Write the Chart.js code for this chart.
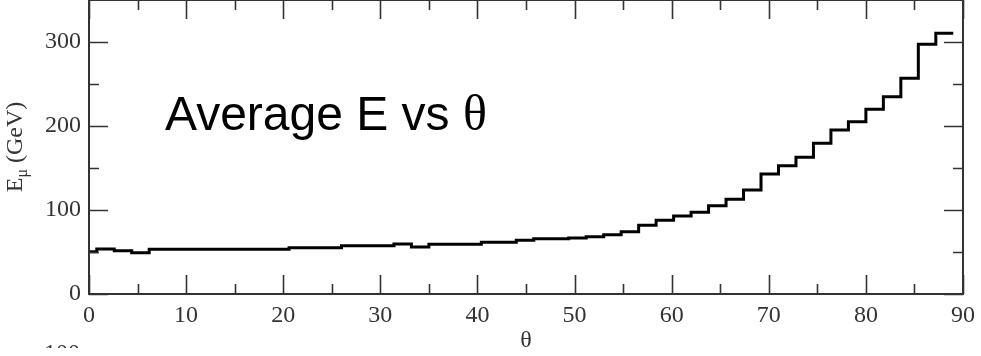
<!DOCTYPE html>
<html><head><meta charset="utf-8">
<script src="https://cdn.jsdelivr.net/npm/chart.js@4.4.0/dist/chart.umd.min.js"></script>
<style>html,body{margin:0;padding:0;background:#fff;overflow:hidden}#wrap{position:relative;width:981px;height:356px}</style>
</head><body><div id="wrap"><canvas id="c" width="981" height="356"></canvas></div>
<script>
// Bin edges of the histogram (theta, degrees)
const binEdges = [0, 0.8, 2.6, 4.4, 6.2, 8.0, 9.8, 11.6, 13.4, 15.2, 17.0, 18.8, 20.6, 22.4, 24.2, 26.0, 27.8, 29.6, 31.4, 33.2, 35.0, 36.8, 38.6, 40.4, 42.2, 44.0, 45.8, 47.6, 49.4, 51.2, 53.0, 54.8, 56.6, 58.4, 60.2, 62.0, 63.8, 65.6, 67.4, 69.2, 71.0, 72.8, 74.6, 76.4, 78.2, 80.0, 81.8, 83.6, 85.4, 87.2, 89.0];
// Average muon energy per bin (GeV)
const avgEnergy = [50.4, 53.5, 51.5, 49.0, 53.2, 53.3, 53.3, 53.3, 53.3, 53.3, 53.3, 53.3, 55.1, 55.1, 55.1, 57.5, 57.5, 57.5, 59.5, 56.0, 59.1, 59.1, 59.1, 61.5, 61.5, 63.9, 65.9, 65.9, 66.7, 68.2, 70.6, 74.2, 81.7, 87.7, 92.9, 97.2, 105.1, 112.7, 123.8, 142.9, 152.8, 162.7, 179.4, 195.2, 205.2, 219.8, 234.9, 256.7, 297.2, 310.3];
const xTickValues = [0, 10, 20, 30, 40, 50, 60, 70, 80, 90];
const xMinorTicks = [5, 15, 25, 35, 45, 55, 65, 75, 85];
const yTickValues = [0, 100, 200, 300];
const yMinorTicks = [50, 150, 250];
const xTitle = 'θ';
const yTitleMain = 'E';
const yTitleSub = 'μ';
const yTitleUnit = ' (GeV)';
const annotationText = 'Average E vs ';
const annotationSymbol = 'θ';
const strayLabel = '100';

const points = binEdges.map((x, i) => ({x: x, y: avgEnergy[Math.min(i, avgEnergy.length - 1)]}));

const AXIS = '#333';
const SERIF = "'Liberation Serif', 'DejaVu Serif', serif";
const SANS = "'Liberation Sans', Arial, sans-serif";

const framePlugin = {
  id: 'frame',
  afterDraw(chart) {
    const ctx = chart.ctx, a = chart.chartArea;
    const xs = chart.scales.x, ys = chart.scales.y;
    ctx.save();
    ctx.strokeStyle = AXIS;
    ctx.lineWidth = 2;
    ctx.strokeRect(a.left, a.top, a.right - a.left, a.bottom - a.top);
    ctx.lineWidth = 1.6;
    ctx.beginPath();
    const tick = (v, len, horiz) => {
      if (horiz) {
        const px = Math.round(xs.getPixelForValue(v)) + 0.5;
        ctx.moveTo(px, a.bottom); ctx.lineTo(px, a.bottom - len);
        ctx.moveTo(px, a.top); ctx.lineTo(px, a.top + len);
      } else {
        const py = Math.round(ys.getPixelForValue(v)) + 0.5;
        ctx.moveTo(a.left, py); ctx.lineTo(a.left + len, py);
        ctx.moveTo(a.right, py); ctx.lineTo(a.right - len, py);
      }
    };
    xTickValues.forEach(v => tick(v, 19, true));
    xMinorTicks.forEach(v => tick(v, 10, true));
    yTickValues.forEach(v => tick(v, 19, false));
    yMinorTicks.forEach(v => tick(v, 10, false));
    ctx.stroke();

    // x title
    ctx.fillStyle = AXIS;
    ctx.font = '24px ' + SERIF;
    ctx.textAlign = 'center';
    ctx.textBaseline = 'alphabetic';
    ctx.fillText(xTitle, (a.left + a.right) / 2, 347);

    // y title with subscript
    ctx.save();
    ctx.translate(22, (a.top + a.bottom) / 2);
    ctx.rotate(-Math.PI / 2);
    ctx.textAlign = 'left';
    const f1 = '24px ' + SERIF, f2 = '16px ' + SERIF;
    ctx.font = f1; const w1 = ctx.measureText(yTitleMain).width;
    ctx.font = f2; const w2 = ctx.measureText(yTitleSub).width;
    ctx.font = f1; const w3 = ctx.measureText(yTitleUnit).width;
    let x0 = -(w1 + w2 + w3) / 2;
    ctx.font = f1; ctx.fillText(yTitleMain, x0, 0);
    ctx.font = f2; ctx.fillText(yTitleSub, x0 + w1, 5);
    ctx.font = f1; ctx.fillText(yTitleUnit, x0 + w1 + w2, 0);
    ctx.restore();

    // annotation
    ctx.fillStyle = '#000';
    ctx.textAlign = 'left';
    ctx.font = '48px ' + SANS;
    const aw = ctx.measureText(annotationText).width;
    ctx.fillText(annotationText, 165, 130);
    ctx.font = '50px ' + SERIF;
    ctx.fillText(annotationSymbol, 165 + aw, 130);

    // stray label from the panel below (clipped)
    ctx.save();
    ctx.beginPath();
    ctx.rect(0, 342, 120, 6);
    ctx.clip();
    ctx.fillStyle = AXIS;
    ctx.font = '24px ' + SERIF;
    ctx.textAlign = 'right';
    ctx.fillText(strayLabel, 80, 360);
    ctx.restore();
    ctx.restore();
  }
};

new Chart(document.getElementById('c'), {
  type: 'line',
  data: {
    datasets: [{
      data: points,
      stepped: true,
      borderColor: '#000',
      borderWidth: 3,
      pointRadius: 0,
      fill: false,
      tension: 0
    }]
  },
  options: {
    responsive: false,
    animation: false,
    layout: {padding: {left: 0, right: 18, top: 0, bottom: 0}},
    plugins: {legend: {display: false}, tooltip: {enabled: false}},
    scales: {
      x: {
        type: 'linear', min: 0, max: 90,
        grid: {display: false, drawTicks: false},
        border: {display: false},
        afterBuildTicks: s => { s.ticks = xTickValues.map(v => ({value: v})); },
        afterFit: s => { s.height = 62; s.paddingLeft = 0; s.paddingRight = 0; },
        ticks: {color: AXIS, font: {family: SERIF, size: 24}, padding: 7, maxRotation: 0, autoSkip: false}
      },
      y: {
        type: 'linear', min: 0, max: 350,
        grid: {display: false, drawTicks: false},
        border: {display: false},
        afterBuildTicks: s => { s.ticks = yTickValues.map(v => ({value: v})); },
        afterFit: s => { s.width = 89; s.paddingTop = 0; s.paddingBottom = 0; },
        ticks: {color: AXIS, font: {family: SERIF, size: 24}, padding: 8, autoSkip: false}
      }
    }
  },
  plugins: [framePlugin]
});
</script>
</body></html>
